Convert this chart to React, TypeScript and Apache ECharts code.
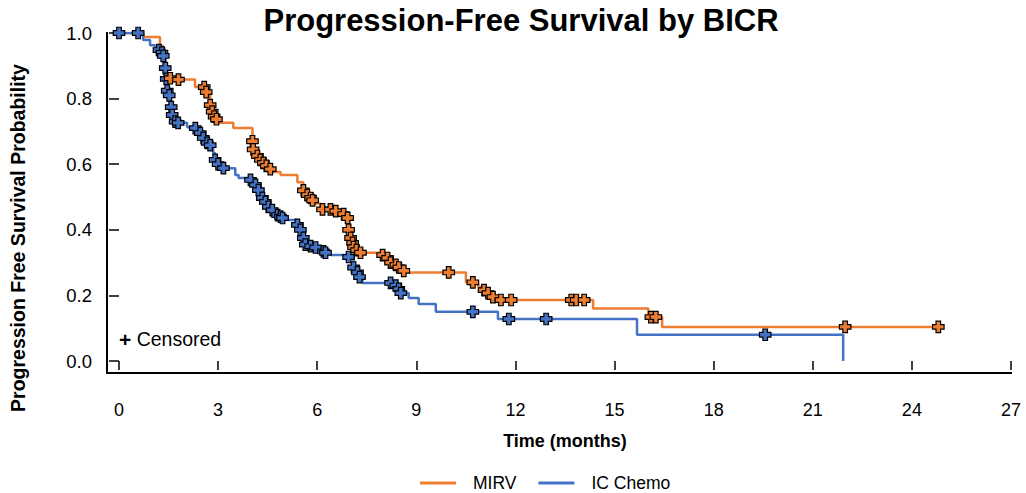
import React, { useEffect, useRef } from "react";
import * as echarts from "echarts";

// ---- Data ----
const xTicks = [0, 3, 6, 9, 12, 15, 18, 21, 24, 27];

// MIRV: time (months), survival probability, censored flag
const mirvTimes = [
  0, 0.73, 1.24, 1.34, 1.4, 1.46, 1.55, 1.8, 2.3, 2.58, 2.64, 2.76, 2.82, 2.88, 2.95, 3.0, 3.46,
  4.04, 4.06, 4.19, 4.28, 4.37, 4.46, 4.58, 4.64, 4.89, 5.4, 5.58, 5.7, 5.8, 5.86, 5.89, 6.1,
  6.16, 6.4, 6.56, 6.8, 6.92, 6.95, 7.01, 7.07, 7.1, 7.19, 7.31, 7.98, 8.13, 8.22, 8.38, 8.47,
  8.62, 8.68, 9.98, 10.5, 10.71, 10.87, 11.05, 11.17, 11.32, 11.4, 11.56, 11.87, 13.69, 13.84,
  14.08, 14.35, 16.02, 16.1, 16.25, 16.44, 21.98, 24.8,
];
const mirvSurv = [
  1, 0.988, 0.96, 0.93, 0.9, 0.87, 0.862, 0.858, 0.835, 0.835, 0.82, 0.78, 0.76, 0.745, 0.737,
  0.726, 0.71, 0.67, 0.645, 0.625, 0.613, 0.604, 0.595, 0.585, 0.576, 0.567, 0.545, 0.52, 0.506,
  0.497, 0.49, 0.48, 0.462, 0.462, 0.462, 0.457, 0.448, 0.436, 0.4, 0.375, 0.36, 0.347, 0.338,
  0.33, 0.323, 0.314, 0.3, 0.293, 0.285, 0.275, 0.27, 0.27, 0.24, 0.24, 0.226, 0.216, 0.207,
  0.195, 0.186, 0.186, 0.186, 0.186, 0.186, 0.186, 0.16, 0.134, 0.134, 0.134, 0.104, 0.104, 0.104,
];
const mirvCensored = [
  0, 0, 0, 0, 0, 0, 1, 1, 0, 1, 1, 1, 1, 1, 1, 0, 0,
  1, 1, 1, 1, 1, 1, 1, 0, 0, 0, 1, 1, 1, 1, 0, 0,
  1, 1, 1, 1, 1, 1, 1, 1, 1, 1, 1, 1, 1, 1, 1, 1,
  1, 0, 1, 0, 1, 0, 1, 1, 1, 0, 1, 1, 1, 1,
  1, 0, 0, 1, 1, 0, 1, 1,
];

// IC Chemo
const chemoTimes = [
  0, 0.58, 0.73, 0.94, 1.09, 1.21, 1.3, 1.34, 1.4, 1.43, 1.46, 1.52, 1.58, 1.61, 1.7, 1.79,
  2.06, 2.31, 2.46, 2.55, 2.67, 2.76, 2.85, 2.91, 3.0, 3.16, 3.52, 3.62, 3.98, 4.13, 4.22, 4.34,
  4.43, 4.52, 4.64, 4.8, 4.89, 4.95, 5.1, 5.4, 5.49, 5.58, 5.64, 5.8, 5.95, 6.19, 6.25, 6.4,
  6.95, 7.1, 7.22, 7.28, 7.37, 8.22, 8.38, 8.47, 8.53, 8.77, 9.07, 9.59, 10.71, 11.47, 11.8,
  12.93, 15.68, 19.56, 21.92,
];
const chemoSurv = [
  1, 1, 0.979, 0.963, 0.95, 0.948, 0.94, 0.93, 0.893, 0.86, 0.824, 0.81, 0.774, 0.75, 0.73, 0.726,
  0.713, 0.71, 0.695, 0.68, 0.665, 0.658, 0.634, 0.613, 0.6, 0.588, 0.567, 0.558, 0.552, 0.537,
  0.521, 0.497, 0.485, 0.47, 0.46, 0.445, 0.44, 0.436, 0.43, 0.415, 0.4, 0.375, 0.355, 0.35,
  0.346, 0.334, 0.33, 0.323, 0.317, 0.285, 0.27, 0.256, 0.238, 0.238, 0.23, 0.22, 0.207, 0.192,
  0.174, 0.15, 0.15, 0.128, 0.128, 0.128, 0.08, 0.08, 0.0,
];
const chemoCensored = [
  1, 1, 0, 0, 0, 1, 1, 1, 1, 1, 1, 1, 1, 1, 1, 1,
  0, 1, 1, 1, 1, 1, 0, 1, 1, 1, 0, 0, 1, 1, 1, 1,
  1, 1, 1, 1, 1, 1, 0, 1, 1, 1, 1, 1, 1, 1, 1, 0,
  1, 1, 1, 1, 0, 1, 1, 1, 1, 0, 0, 0, 1, 0, 1,
  1, 0, 1, 0,
];

const MIRV_COLOR = "#ED7D31";
const CHEMO_COLOR = "#4472C4";
const FONT = "Liberation Sans";
const PLUS = "path://M3,0 H7 V3 H10 V7 H7 V10 H3 V7 H0 V3 H3 Z";

function stepData(times: number[], surv: number[]) {
  return times.map((t, i) => [t, surv[i]]);
}
function censorData(times: number[], surv: number[], cens: number[]) {
  return times.map((t, i) => [t, surv[i]]).filter((_, i) => cens[i] === 1);
}

export default function App() {
  const ref = useRef<HTMLDivElement>(null);

  useEffect(() => {
    if (!ref.current) return;
    const chart = echarts.init(ref.current, undefined, { renderer: "svg" });
    const option: any = {
      animation: false,
      backgroundColor: "#ffffff",
      title: {
        text: "Progression-Free Survival by BICR",
        left: 521,
        top: 5,
        padding: 0,
        textAlign: "center",
        textStyle: { fontFamily: FONT, fontWeight: "bold", fontSize: 31, color: "#000" },
      },
      grid: { left: 119, right: 15, top: 33, bottom: 132, containLabel: false },
      xAxis: {
        type: "value",
        min: 0,
        max: 27,
        interval: 3,
        offset: 15,
        name: "Time (months)",
        nameLocation: "middle",
        nameGap: 56,
        nameTextStyle: { fontFamily: FONT, fontWeight: "bold", fontSize: 18, color: "#000" },
        axisLine: { show: false },
        axisTick: { show: true, length: 9, lineStyle: { color: "#000", width: 1.5 } },
        axisLabel: {
          fontFamily: FONT,
          fontSize: 18,
          color: "#000",
          margin: 25,
          formatter: (v: number) => (xTicks.includes(v) ? String(v) : ""),
        },
        splitLine: { show: false },
      },
      yAxis: {
        type: "value",
        min: 0,
        max: 1,
        interval: 0.2,
        offset: 12,
        axisLine: { show: false },
        axisTick: { show: true, length: 10, lineStyle: { color: "#000", width: 1.5 } },
        axisLabel: {
          fontFamily: FONT,
          fontSize: 18.5,
          color: "#000",
          margin: 15,
          formatter: (v: number) => v.toFixed(1),
        },
        splitLine: { show: false },
      },
      legend: {
        data: ["MIRV", "IC Chemo"],
        left: 415,
        top: 469,
        icon: "rect",
        itemWidth: 36,
        itemHeight: 3,
        itemGap: 22,
        textStyle: { fontFamily: FONT, fontSize: 17.5, color: "#000", padding: [0, 0, 0, 12] },
      },
      graphic: [
        {
          type: "polyline",
          z: 10,
          shape: { points: [[107, 32], [107, 373], [1012, 373]] },
          style: { stroke: "#000", lineWidth: 2, fill: null },
        },
        {
          type: "text",
          x: 18,
          y: 238,
          rotation: Math.PI / 2,
          style: {
            text: "Progression Free Survival Probability",
            fontFamily: FONT,
            fontWeight: "bold",
            fontSize: 19.5,
            fill: "#000",
            align: "center",
            verticalAlign: "middle",
          },
        },
        {
          type: "text",
          x: 119,
          y: 339,
          style: {
            text: "{p|+} Censored",
            fontFamily: FONT,
            fontSize: 19.5,
            fill: "#000",
            verticalAlign: "middle",
            rich: {
              p: { fontFamily: FONT, fontWeight: "bold", fontSize: 21, fill: "#000" },
            },
          },
        },
      ],
      series: [
        {
          name: "MIRV",
          type: "line",
          step: "end",
          symbol: "none",
          data: stepData(mirvTimes, mirvSurv),
          lineStyle: { color: MIRV_COLOR, width: 2.5 },
          itemStyle: { color: MIRV_COLOR },
          z: 2,
        },
        {
          name: "IC Chemo",
          type: "line",
          step: "end",
          symbol: "none",
          data: stepData(chemoTimes, chemoSurv),
          lineStyle: { color: CHEMO_COLOR, width: 2.5 },
          itemStyle: { color: CHEMO_COLOR },
          z: 2,
        },
        {
          name: "MIRV censored",
          type: "scatter",
          symbol: PLUS,
          symbolSize: 11.5,
          data: censorData(mirvTimes, mirvSurv, mirvCensored),
          itemStyle: { color: MIRV_COLOR, borderColor: "#000", borderWidth: 1.2, opacity: 1 },
          z: 4,
        },
        {
          name: "IC Chemo censored",
          type: "scatter",
          symbol: PLUS,
          symbolSize: 11.5,
          data: censorData(chemoTimes, chemoSurv, chemoCensored),
          itemStyle: { color: CHEMO_COLOR, borderColor: "#000", borderWidth: 1.2, opacity: 1 },
          z: 3,
        },
      ],
    };
    chart.setOption(option);
    return () => chart.dispose();
  }, []);

  return (
    <div
      ref={ref}
      style={{ position: "fixed", left: 0, top: 0, width: 1026, height: 493, background: "#fff" }}
    />
  );
}
